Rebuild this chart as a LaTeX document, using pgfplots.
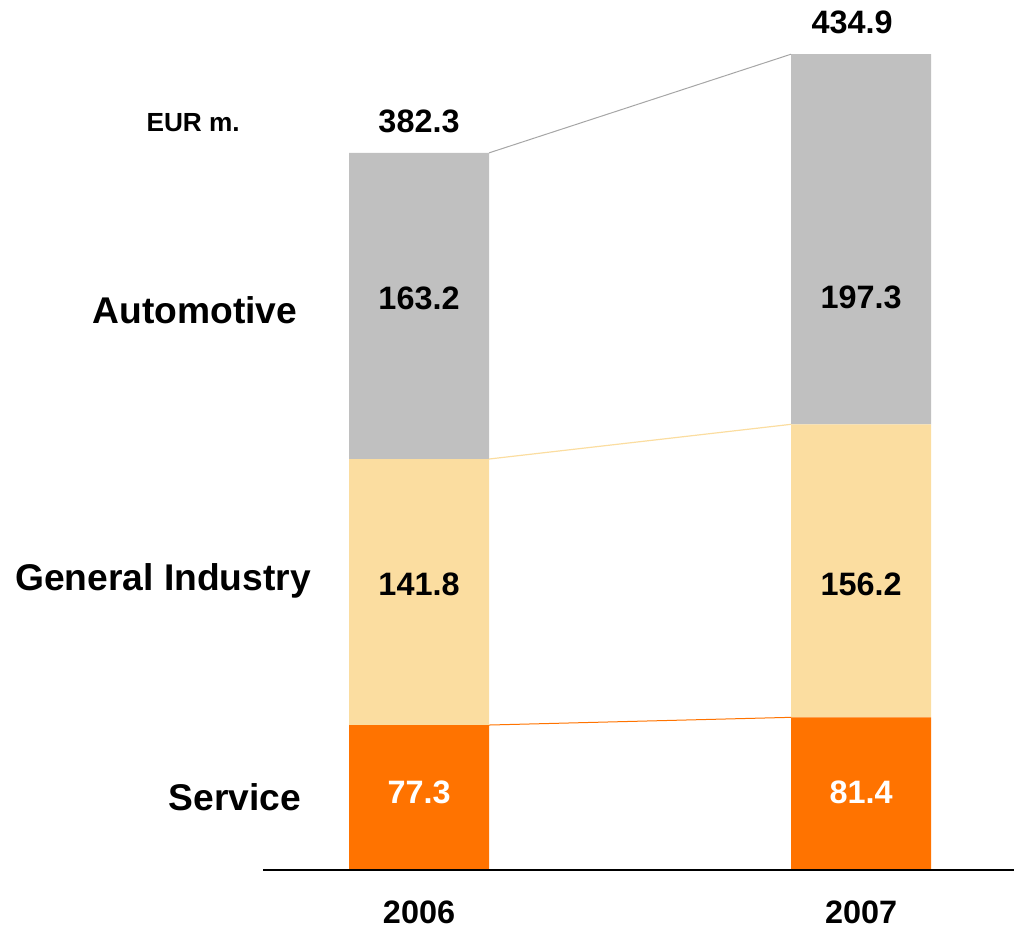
\documentclass[border=0pt]{standalone}
\usepackage{pgfplots}
\pgfplotsset{compat=1.18}
\usepackage{fontspec}
\setmainfont{Liberation Sans}
\definecolor{autogray}{HTML}{C0C0C0}
\definecolor{genind}{HTML}{FBDDA0}
\definecolor{servor}{HTML}{FF7300}
\begin{document}
\begin{tikzpicture}
\begin{axis}[
  scale only axis, width=507pt, height=464pt,
  xmin=-0.948, xmax=1.346, ymin=-30.9, ymax=463.8,
  hide axis, clip=false,
  ybar stacked, bar width=0.3167,
]
\addplot[fill=servor, draw=none] coordinates {(0,77.3) (1,81.4)};
\addplot[fill=genind, draw=none] coordinates {(0,141.8) (1,156.2)};
\addplot[fill=autogray, draw=none] coordinates {(0,163.2) (1,197.3)};
\end{axis}
\begin{axis}[
  scale only axis, width=507pt, height=464pt,
  xmin=-0.948, xmax=1.346, ymin=-30.9, ymax=463.8,
  hide axis, clip=false,
]
\addplot[black, line width=0.8pt] coordinates {(-0.353,0) (1.346,0)};
\addplot[gray!70, line width=0.5pt] coordinates {(0.1584,382.3) (0.8416,434.9)};
\addplot[genind, line width=0.6pt] coordinates {(0.1584,219.1) (0.8416,237.6)};
\addplot[servor, line width=0.5pt] coordinates {(0.1584,77.3) (0.8416,81.4)};
\begin{scope}[font=\fontsize{16.2}{19}\selectfont\bfseries]
\node at (axis cs:0,399.3) {382.3};
\node at (axis cs:0.98,452.0) {434.9};
\node at (axis cs:0,304.9) {163.2};
\node at (axis cs:1,305.4) {197.3};
\node at (axis cs:0,152.5) {141.8};
\node at (axis cs:1,152.5) {156.2};
\node[white] at (axis cs:0,41.6) {77.3};
\node[white] at (axis cs:1,41.6) {81.4};
\node at (axis cs:0,-22.4) {2006};
\node at (axis cs:1,-22.4) {2007};
\end{scope}
\begin{scope}[font=\fontsize{18.6}{22}\selectfont\bfseries]
\node at (axis cs:-0.507,298.5) {Automotive};
\node at (axis cs:-0.579,154.1) {General Industry};
\node at (axis cs:-0.416,38.9) {Service};
\end{scope}
\node[font=\fontsize{13.1}{15}\selectfont\bfseries] at (axis cs:-0.511,398.5) {EUR m.};
\end{axis}
\pgfresetboundingbox
\path[use as bounding box] (current axis.south west) rectangle (current axis.north east);
\end{tikzpicture}
\end{document}
